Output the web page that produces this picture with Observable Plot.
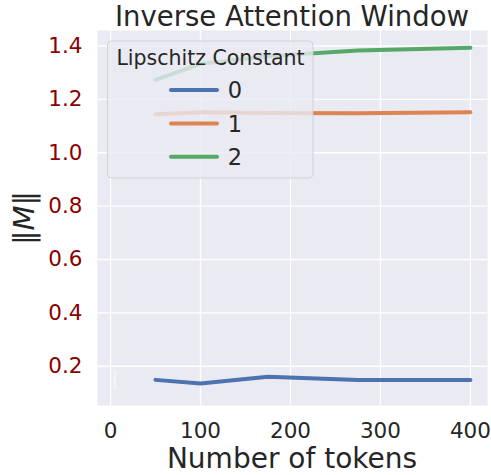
<!DOCTYPE html>
<html>
<head>
<meta charset="utf-8">
<script src="https://cdn.jsdelivr.net/npm/d3@7"></script>
<script src="https://cdn.jsdelivr.net/npm/@observablehq/plot@0.6"></script>
<style>
  html, body { margin: 0; padding: 0; background: #fff; }
  #chart svg { display: block; }
</style>
</head>
<body>
<div id="chart"></div>
<script>
// ---- data ----
const tokens = [50, 100, 175, 275, 400];
const lip0 = [0.149, 0.135, 0.161, 0.149, 0.149];
const lip1 = [1.144, 1.152, 1.149, 1.148, 1.152];
const lip2 = [1.273, 1.333, 1.362, 1.383, 1.393];
const seriesNames = ["0", "1", "2"];
const seriesColors = ["#4C72B0", "#DD8452", "#55A868"];
const xTicks = [0, 100, 200, 300, 400];
const yTicks = [0.2, 0.4, 0.6, 0.8, 1.0, 1.2, 1.4];
// faint stray segment near x≈5
const faintX = [5];
const faintY1 = [0.11];
const faintY2 = [0.185];

const rows = [];
[lip0, lip1, lip2].forEach((vals, i) => {
  vals.forEach((v, j) => rows.push({series: seriesNames[i], x: tokens[j], y: v}));
});
const faint = faintX.map((x, i) => ({x, y1: faintY1[i], y2: faintY2[i]}));

const W = 491, H = 475;
const mL = 97, mR = 4, mT = 30, mB = 70;
const ink = "#262626";

const plot = Plot.plot({
  width: W,
  height: H,
  marginLeft: mL,
  marginRight: mR,
  marginTop: mT,
  marginBottom: mB,
  style: {fontFamily: "DejaVu Sans", fontSize: "21px", color: ink, background: "#fff"},
  x: {domain: [-14.5, 419], ticks: xTicks, label: null},
  y: {domain: [0.053, 1.458], ticks: yTicks, label: null},
  color: {domain: seriesNames, range: seriesColors},
  marks: [
    Plot.frame({fill: "#EAEAF2", stroke: null}),
    Plot.gridX(xTicks, {stroke: "#fff", strokeOpacity: 1, strokeWidth: 1.3}),
    Plot.gridY(yTicks, {stroke: "#fff", strokeOpacity: 1, strokeWidth: 1.3}),
    Plot.ruleX(faint, {x: "x", y1: "y1", y2: "y2", stroke: "#fff", strokeOpacity: 0.4, strokeWidth: 3}),
    Plot.axisX({ticks: xTicks, tickSize: 0, tickPadding: 17, fill: ink, fontSize: 21.5, label: null,
      tickFormat: d => String(d)}),
    Plot.axisY({ticks: yTicks, tickSize: 0, tickPadding: 15, fill: "#8B0000", fontSize: 21.5, label: null,
      tickFormat: d => d.toFixed(1)}),
    Plot.line(rows, {x: "x", y: "y", z: "series", stroke: "series", strokeWidth: 4,
      strokeLinecap: "round", strokeLinejoin: "round"})
  ]
});

document.getElementById("chart").appendChild(plot);

const svg = d3.select(plot);
const cx = mL + (W - mL - mR) / 2;

// title
svg.append("text")
  .attr("x", cx).attr("y", 25.5)
  .attr("text-anchor", "middle")
  .attr("font-family", "DejaVu Sans").attr("font-size", 27.5)
  .attr("fill", ink)
  .text("Inverse Attention Window");

// x label
svg.append("text")
  .attr("x", cx).attr("y", 468)
  .attr("text-anchor", "middle")
  .attr("font-family", "DejaVu Sans").attr("font-size", 28)
  .attr("fill", ink)
  .text("Number of tokens");

// y label ‖M‖
const yl = svg.append("text")
  .attr("transform", "translate(34,218) rotate(-90)")
  .attr("text-anchor", "middle")
  .attr("font-family", "DejaVu Sans").attr("font-size", 29)
  .attr("fill", ink);
yl.append("tspan").text("‖");
yl.append("tspan").attr("font-style", "italic").text("M");
yl.append("tspan").text("‖");

// legend
const lg = svg.append("g");
lg.append("rect")
  .attr("x", 107.5).attr("y", 41).attr("width", 205.5).attr("height", 137)
  .attr("rx", 4).attr("ry", 4)
  .attr("fill", "#EAEAF2").attr("fill-opacity", 0.8)
  .attr("stroke", "#cccccc").attr("stroke-opacity", 0.8).attr("stroke-width", 1);
lg.append("text")
  .attr("x", 210.5).attr("y", 65)
  .attr("text-anchor", "middle")
  .attr("font-family", "DejaVu Sans").attr("font-size", 20.5)
  .attr("fill", ink)
  .text("Lipschitz Constant");
seriesNames.forEach((name, i) => {
  const yy = 90 + i * 33.4;
  lg.append("line")
    .attr("x1", 171).attr("x2", 217).attr("y1", yy).attr("y2", yy)
    .attr("stroke", seriesColors[i]).attr("stroke-width", 4).attr("stroke-linecap", "round");
  lg.append("text")
    .attr("x", 235).attr("y", yy).attr("dy", "0.36em")
    .attr("font-family", "DejaVu Sans").attr("font-size", 22.5)
    .attr("fill", ink)
    .text(name);
});
</script>
</body>
</html>
